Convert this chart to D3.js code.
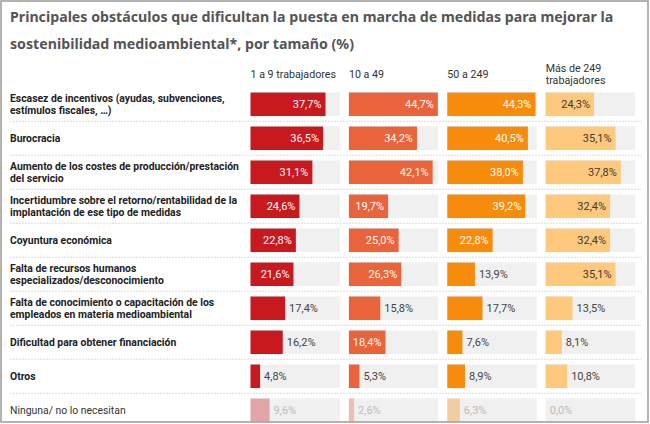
<!DOCTYPE html>
<html>
<head>
<meta charset="utf-8">
<script src="https://cdn.jsdelivr.net/npm/d3@7"></script>
<style>
  html, body { margin: 0; padding: 0; background: #fff; }
  svg { display: block; }
  text { font-family: Roboto, "Noto Sans", sans-serif; }
</style>
</head>
<body>
<svg id="chart" width="650" height="424"></svg>
<script>
// ---------- DATA ----------
const titleLines = [
  "Principales obstáculos que dificultan la puesta en marcha de medidas para mejorar la",
  "sostenibilidad medioambiental*, por tamaño (%)"
];
const categories = [
  "Escasez de incentivos (ayudas, subvenciones,|estímulos fiscales, …)",
  "Burocracia",
  "Aumento de los costes de producción/prestación|del servicio",
  "Incertidumbre sobre el retorno/rentabilidad de la|implantación de ese tipo de medidas",
  "Coyuntura económica",
  "Falta de recursos humanos|especializados/desconocimiento",
  "Falta de conocimiento o capacitación de los|empleados en materia medioambiental",
  "Dificultad para obtener financiación",
  "Otros",
  "Ninguna/ no lo necesitan"
];
const seriesNames = ["1 a 9 trabajadores", "10 a 49", "50 a 249", "Más de 249|trabajadores"];
const serie1 = [37.7, 36.5, 31.1, 24.6, 22.8, 21.6, 17.4, 16.2, 4.8, 9.6];
const serie2 = [44.7, 34.2, 42.1, 19.7, 25.0, 26.3, 15.8, 18.4, 5.3, 2.6];
const serie3 = [44.3, 40.5, 38.0, 39.2, 22.8, 13.9, 17.7, 7.6, 8.9, 6.3];
const serie4 = [24.3, 35.1, 37.8, 32.4, 32.4, 35.1, 13.5, 8.1, 10.8, 0.0];
const seriesColors = ["#c8191f", "#e9633b", "#f68b0c", "#fec97c"];
const seriesTextInside = ["#ffffff", "#ffffff", "#ffffff", "#3a3a3a"];
const fadedIndex = 9;

// ---------- SETUP ----------
const series = [serie1, serie2, serie3, serie4];
const svg = d3.select("#chart");
const fmt = v => d3.format(".1f")(v).replace(".", ",") + "%";

svg.append("defs").append("clipPath").attr("id", "frameClip")
  .append("rect").attr("x", 1.5).attr("y", 1.5).attr("width", 646).attr("height", 420);

const root = svg.append("g").attr("clip-path", "url(#frameClip)");

// title
const title = root.append("text")
  .style("font-family", "'Noto Sans', sans-serif")
  .style("font-weight", "700")
  .style("font-size", "14.2px")
  .attr("fill", "#555555");
titleLines.forEach((t, i) => {
  title.append("tspan").attr("x", 10).attr("y", 22 + i * 26.5).text(t);
});

// scales
const y = d3.scaleBand()
  .domain(d3.range(categories.length))
  .range([87.25, 87.25 + 34 * categories.length])
  .paddingInner(10.5 / 34)
  .paddingOuter(10.5 / 68);

const col = d3.scaleBand()
  .domain(d3.range(series.length))
  .range([250.5, 635.2])
  .paddingInner(0.09)
  .paddingOuter(0);

const x = d3.scaleLinear().domain([0, 45]).range([0, col.bandwidth()]);

// column headers
seriesNames.forEach((name, j) => {
  const lines = name.split("|");
  const t = root.append("text")
    .attr("fill", "#333")
    .style("font-size", "10.7px");
  lines.forEach((ln, k) => {
    const base = lines.length === 1 ? 77.7 : 71.7 + k * 11.8;
    t.append("tspan").attr("x", col(j)).attr("y", base).text(ln);
  });
});

// separators
root.selectAll("line.sep")
  .data(d3.range(categories.length - 1))
  .join("line")
  .attr("class", "sep")
  .attr("x1", 10).attr("x2", 641)
  .attr("y1", i => y(i) + y.bandwidth() + y.step() * (10.5 / 34) / 2)
  .attr("y2", i => y(i) + y.bandwidth() + y.step() * (10.5 / 34) / 2)
  .attr("stroke", "#dcdcdc")
  .attr("stroke-width", 1)
  .attr("stroke-dasharray", "2,1");

// category labels
categories.forEach((c, i) => {
  const lines = c.split("|");
  const cy = y(i) + y.bandwidth() / 2;
  const t = root.append("text")
    .attr("fill", i === fadedIndex ? "#333" : "#222")
    .style("font-size", "10.4px")
    .style("font-weight", i === fadedIndex ? "400" : "700");
  lines.forEach((ln, k) => {
    const off = (k - (lines.length - 1) / 2) * 11.5;
    t.append("tspan").attr("x", 10).attr("y", cy + off).attr("dy", "0.35em").text(ln);
  });
});

// bars
series.forEach((vals, j) => {
  const g = root.append("g").attr("transform", `translate(${col(j)},0)`);
  g.selectAll("rect.bg").data(vals).join("rect")
    .attr("class", "bg")
    .attr("x", 0).attr("y", (d, i) => y(i))
    .attr("width", col.bandwidth()).attr("height", y.bandwidth())
    .attr("fill", "#f0f0f0");
  g.selectAll("rect.bar").data(vals).join("rect")
    .attr("class", "bar")
    .attr("x", 0).attr("y", (d, i) => y(i))
    .attr("width", d => x(d)).attr("height", y.bandwidth())
    .attr("fill", seriesColors[j])
    .attr("opacity", (d, i) => i === fadedIndex ? 0.35 : 1);
  g.selectAll("text.val").data(vals).join("text")
    .attr("class", "val")
    .attr("y", (d, i) => y(i) + y.bandwidth() / 2)
    .attr("dy", "0.35em")
    .style("font-size", "11px")
    .each(function (d, i) {
      const inside = d >= 18;
      const sel = d3.select(this);
      if (inside) {
        sel.attr("x", x(d) - 4).attr("text-anchor", "end")
          .attr("fill", i === fadedIndex ? "#bbb" : seriesTextInside[j]);
      } else {
        sel.attr("x", x(d) + 4).attr("text-anchor", "start")
          .attr("fill", i === fadedIndex ? "#bbbbbb" : "#444");
      }
    })
    .text(d => fmt(d));
});

// frame
svg.append("rect")
  .attr("x", 1).attr("y", 1).attr("width", 647).attr("height", 421)
  .attr("fill", "none").attr("stroke", "#9a9a9a").attr("stroke-width", 1.5);
</script>
</body>
</html>
